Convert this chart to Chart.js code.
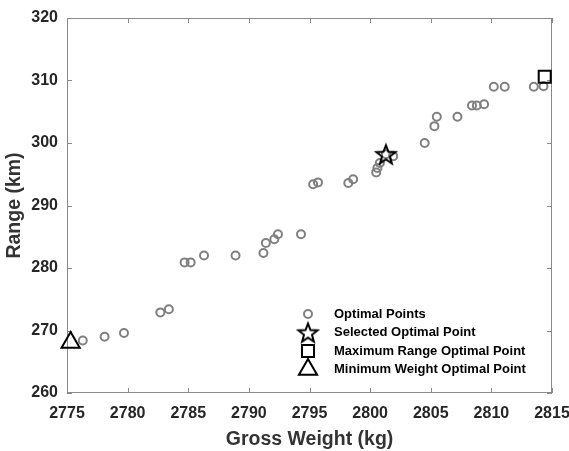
<!DOCTYPE html>
<html>
<head>
<meta charset="utf-8">
<script src="https://cdn.jsdelivr.net/npm/chart.js@4.4.0/dist/chart.umd.min.js"></script>
<style>
  html, body { margin: 0; padding: 0; background: #fff; }
</style>
</head>
<body>
<canvas id="graficoPareto" width="569" height="451"></canvas>
<script>
// pontos otimos (peso bruto kg, alcance km)
const pesoOtimo = [
  2776.3, 2778.1, 2779.7, 2782.7, 2783.4, 2784.7, 2785.2, 2786.3, 2788.9, 2791.2,
  2791.4, 2792.1, 2792.4, 2794.3, 2795.3, 2795.7, 2798.2, 2798.6, 2800.5, 2800.6,
  2800.8, 2801.3, 2801.9, 2804.5, 2805.3, 2805.5, 2807.2, 2808.4, 2808.8, 2809.4,
  2810.2, 2811.1, 2813.5, 2814.3
];
const alcanceOtimo = [
  268.4, 269.0, 269.6, 272.9, 273.4, 280.9, 280.9, 282.0, 282.0, 282.4,
  284.0, 284.6, 285.4, 285.4, 293.4, 293.7, 293.6, 294.2, 295.3, 296.0,
  296.8, 298.2, 297.9, 300.0, 302.7, 304.2, 304.2, 306.0, 306.0, 306.2,
  309.0, 309.0, 309.0, 309.1
];
const pesoSelecionado = [2801.3];
const alcanceSelecionado = [298.2];
const pesoAlcanceMax = [2814.4];
const alcanceMax = [310.6];
const pesoMinimo = [2775.3];
const alcancePesoMin = [268.1];

const ticksX = [2775, 2780, 2785, 2790, 2795, 2800, 2805, 2810, 2815];
const ticksY = [260, 270, 280, 290, 300, 310, 320];

const rotulos = [
  'Optimal Points',
  'Selected Optimal Point',
  'Maximum Range Optimal Point',
  'Minimum Weight Optimal Point'
];

const cinza = '#808080';
const fonte = '"Liberation Sans", Arial, sans-serif';

const pares = (xs, ys) => xs.map((x, i) => ({ x: x, y: ys[i] }));

// estrela de cinco pontas (pentagrama) como imagem de marcador
function estrela(r, lw) {
  const c = document.createElement('canvas');
  const s = Math.ceil(2 * r + 2 * lw + 2);
  c.width = s;
  c.height = s;
  const g = c.getContext('2d');
  g.beginPath();
  for (let i = 0; i < 10; i++) {
    const rr = i % 2 === 0 ? r : r * 0.42;
    const a = -Math.PI / 2 + i * Math.PI / 5;
    const px = s / 2 + rr * Math.cos(a);
    const py = s / 2 + 1 + rr * Math.sin(a);
    if (i === 0) g.moveTo(px, py); else g.lineTo(px, py);
  }
  g.closePath();
  g.lineJoin = 'miter';
  g.lineWidth = lw;
  g.strokeStyle = '#000';
  g.stroke();
  return c;
}
const imgEstrela = estrela(10, 2);

// moldura com ticks para dentro nos quatro lados
const moldura = {
  id: 'moldura',
  beforeDatasetsDraw(chart) {
    const { ctx, chartArea: a, scales } = chart;
    ctx.save();
    ctx.strokeStyle = '#8a8a8a';
    ctx.lineWidth = 1;
    ctx.strokeRect(a.left + 0.5, a.top + 0.5, a.right - a.left - 1, a.bottom - a.top - 1);
    ctx.beginPath();
    ticksX.forEach(v => {
      const px = Math.round(scales.x.getPixelForValue(v)) + 0.5;
      ctx.moveTo(px, a.bottom); ctx.lineTo(px, a.bottom - 5);
      ctx.moveTo(px, a.top); ctx.lineTo(px, a.top + 5);
    });
    ticksY.forEach(v => {
      const py = Math.round(scales.y.getPixelForValue(v)) + 0.5;
      ctx.moveTo(a.left, py); ctx.lineTo(a.left + 5, py);
      ctx.moveTo(a.right, py); ctx.lineTo(a.right - 5, py);
    });
    ctx.stroke();
    ctx.restore();
  }
};

// legenda dentro da area do grafico
const legendaInterna = {
  id: 'legendaInterna',
  afterDraw(chart) {
    const { ctx, chartArea: a } = chart;
    const xm = a.right - 244;
    const xt = a.right - 218;
    const y0 = a.bottom - 79;
    const passo = 18.5;
    ctx.save();
    ctx.font = 'bold 13px ' + fonte;
    ctx.fillStyle = '#000';
    ctx.textBaseline = 'middle';
    rotulos.forEach((t, i) => ctx.fillText(t, xt, y0 + i * passo));

    // circulo
    ctx.lineWidth = 2;
    ctx.strokeStyle = cinza;
    ctx.beginPath();
    ctx.arc(xm, y0, 4, 0, Math.PI * 2);
    ctx.stroke();
    // estrela
    ctx.drawImage(imgEstrela, xm - imgEstrela.width / 2, y0 + passo - imgEstrela.height / 2);
    // quadrado
    ctx.strokeStyle = '#000';
    ctx.strokeRect(xm - 6, y0 + 2 * passo - 6, 12, 12);
    // triangulo
    const yt = y0 + 3 * passo;
    const r = 10.5;
    ctx.beginPath();
    ctx.moveTo(xm, yt - r);
    ctx.lineTo(xm + r * 0.866, yt + r / 2);
    ctx.lineTo(xm - r * 0.866, yt + r / 2);
    ctx.closePath();
    ctx.stroke();
    ctx.restore();
  }
};

const ctx = document.getElementById('graficoPareto').getContext('2d');
const meuGrafico = new Chart(ctx, {
  type: 'scatter',
  data: {
    datasets: [
      {
        label: rotulos[3],
        data: pares(pesoMinimo, alcancePesoMin),
        pointStyle: 'triangle',
        pointRadius: 10.5,
        pointBorderWidth: 2,
        borderColor: '#000',
        backgroundColor: 'transparent',
        clip: false
      },
      {
        label: rotulos[2],
        data: pares(pesoAlcanceMax, alcanceMax),
        pointStyle: 'rect',
        pointRadius: 8.5,
        pointBorderWidth: 2,
        borderColor: '#000',
        backgroundColor: 'transparent',
        clip: false
      },
      {
        label: rotulos[1],
        data: pares(pesoSelecionado, alcanceSelecionado),
        pointStyle: imgEstrela,
        clip: false
      },
      {
        label: rotulos[0],
        data: pares(pesoOtimo, alcanceOtimo),
        pointStyle: 'circle',
        pointRadius: 4,
        pointBorderWidth: 2,
        borderColor: cinza,
        backgroundColor: 'transparent',
        clip: false
      }
    ]
  },
  options: {
    responsive: false,
    animation: false,
    layout: { padding: { top: 18, right: 17, left: 0, bottom: 0 } },
    scales: {
      x: {
        type: 'linear',
        min: 2775,
        max: 2815,
        afterFit: s => { s.height = 58; s.paddingLeft = 0; s.paddingRight = 0; },
        afterBuildTicks: s => { s.ticks = ticksX.map(v => ({ value: v })); },
        grid: { display: false, drawTicks: false },
        border: { display: false },
        ticks: {
          padding: 11,
          maxRotation: 0,
          color: '#262626',
          callback: v => String(v),
          font: { family: fonte, size: 16, weight: 'bold' }
        },
        title: {
          display: true,
          text: 'Gross Weight (kg)',
          color: '#333',
          padding: { top: 0, bottom: 0 },
          font: { family: fonte, size: 19.5, weight: 'bold' }
        }
      },
      y: {
        type: 'linear',
        min: 260,
        max: 320,
        afterFit: s => { s.width = 67; s.paddingTop = 0; s.paddingBottom = 0; },
        afterBuildTicks: s => { s.ticks = ticksY.map(v => ({ value: v })); },
        grid: { display: false, drawTicks: false },
        border: { display: false },
        ticks: {
          padding: 9,
          color: '#262626',
          callback: v => String(v),
          font: { family: fonte, size: 16, weight: 'bold' }
        },
        title: {
          display: true,
          text: 'Range (km)',
          color: '#333',
          padding: { top: 3, bottom: 0 },
          font: { family: fonte, size: 19.5, weight: 'bold' }
        }
      }
    },
    plugins: {
      legend: { display: false },
      tooltip: { enabled: false }
    }
  },
  plugins: [moldura, legendaInterna]
});
</script>
</body>
</html>
